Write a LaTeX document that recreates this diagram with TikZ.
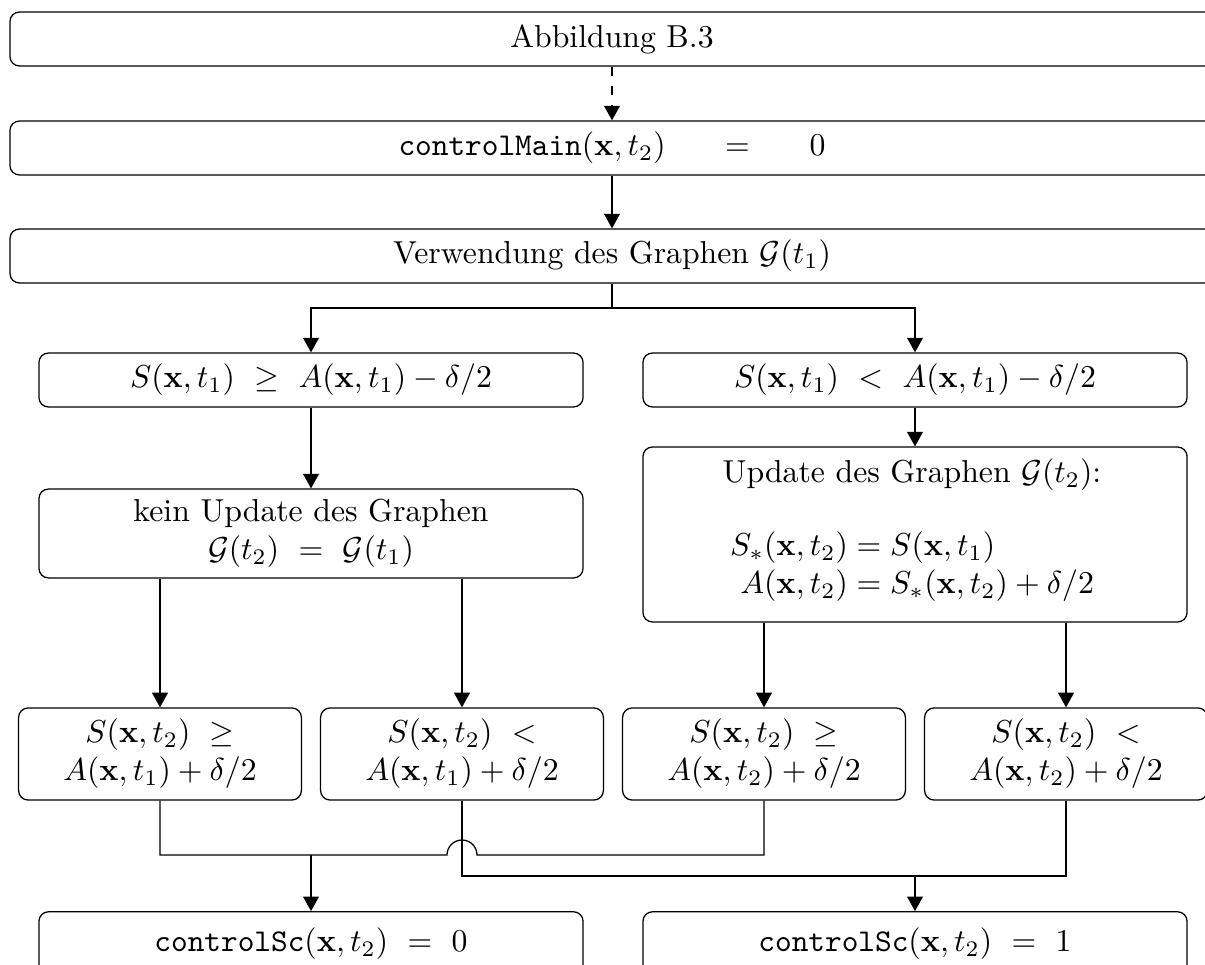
\documentclass[tikz,border=0pt]{standalone}
\usepackage{amsmath}
\usetikzlibrary{arrows.meta}
\begin{document}
\begin{tikzpicture}[x=0.315pt,y=-0.315pt,
  box/.style={draw, rounded corners=3pt, line width=0.4pt, inner sep=0pt, align=center},
  wide/.style={box, minimum width=379.3pt, minimum height=17pt},
  half/.style={box, minimum width=171.4pt, minimum height=17pt},
  quarter/.style={box, minimum width=89.1pt, minimum height=29pt},
  label/.style={inner sep=0pt, align=center},
  flow/.style={line width=0.4pt, -{Triangle[length=4.6pt,width=5pt]}},
  link/.style={line width=0.4pt}]
\useasboundingbox (0,0) rectangle (1205,965);

% top column
\node[wide] (fig) at (612,39) {Abbildung B.3};
\node[wide] (main) at (612,148) {\texttt{controlMain}$(\mathbf{x},t_2)\hspace{16pt}=\hspace{16pt}0$};
\node[wide] (graph) at (612,256) {Verwendung des Graphen $\mathcal{G}(t_1)$};

% first decision
\node[half] (geq) at (311,380) {$S(\mathbf{x},t_1)\ \geq\ A(\mathbf{x},t_1)-\delta/2$};
\node[half] (less) at (915,380) {$S(\mathbf{x},t_1)\ <\ A(\mathbf{x},t_1)-\delta/2$};

% graph handling
\node[half, minimum height=28pt] (keep) at (311,533.5)
  {kein Update des Graphen\\$\mathcal{G}(t_2)\ =\ \mathcal{G}(t_1)$};
\node[half, minimum height=55.1pt] (upd) at (915,534.5) {};
\node[label] (updtext) at (912,532)
  {Update des Graphen $\mathcal{G}(t_2)$:\\[11pt]
   \setlength{\jot}{0pt}%
   $\begin{aligned}S_*(\mathbf{x},t_2)&=S(\mathbf{x},t_1)\\
   A(\mathbf{x},t_2)&=S_*(\mathbf{x},t_2)+\delta/2\end{aligned}$};

% second decision
\node[quarter] (ka) at (160,754) {$S(\mathbf{x},t_2)\ \geq$\\$A(\mathbf{x},t_1)+\delta/2$};
\node[quarter] (kb) at (462,754) {$S(\mathbf{x},t_2)\ <$\\$A(\mathbf{x},t_1)+\delta/2$};
\node[quarter] (kc) at (764,754) {$S(\mathbf{x},t_2)\ \geq$\\$A(\mathbf{x},t_2)+\delta/2$};
\node[quarter] (kd) at (1066,754) {$S(\mathbf{x},t_2)\ <$\\$A(\mathbf{x},t_2)+\delta/2$};

% results (their lower edges run past the page)
\node[half, minimum height=20pt] (res0) at (311,943.5)
  {\raisebox{1.75pt}{\texttt{controlSc}$(\mathbf{x},t_2)\ =\ 0$}};
\node[half, minimum height=20pt] (res1) at (915,943.5)
  {\raisebox{1.75pt}{\texttt{controlSc}$(\mathbf{x},t_2)\ =\ 1$}};

% connectors
\draw[flow, dashed] (fig) -- (main);
\draw[flow] (main) -- (graph);
\coordinate (fork) at (612,308);
\draw[link] (graph.south) -- (fork);
\draw[flow] (fork) -| (geq.north);
\draw[flow] (fork) -| (less.north);
\draw[flow] (geq) -- (keep);
\draw[flow] (less) -- (upd);
\draw[flow] (keep.south -| ka.north) -- (ka.north);
\draw[flow] (keep.south -| kb.north) -- (kb.north);
\draw[flow] (upd.south -| kc.north) -- (kc.north);
\draw[flow] (upd.south -| kd.north) -- (kd.north);

% joins towards the results, the left one hopping over the right one
\coordinate (joinL) at (311,855);
\coordinate (joinR) at (915,876);
\coordinate (hopL) at (447,855);
\coordinate (hopR) at (477,855);
\draw[link] (ka.south) |- (hopL) arc[start angle=180, end angle=0, radius=4.725pt]
  -- (hopR) -| (kc.south);
\draw[link] (kb.south) |- (joinR) -| (kd.south);
\draw[flow] (joinL) -- (res0.north);
\draw[flow] (joinR) -- (res1.north);
\end{tikzpicture}
\end{document}
